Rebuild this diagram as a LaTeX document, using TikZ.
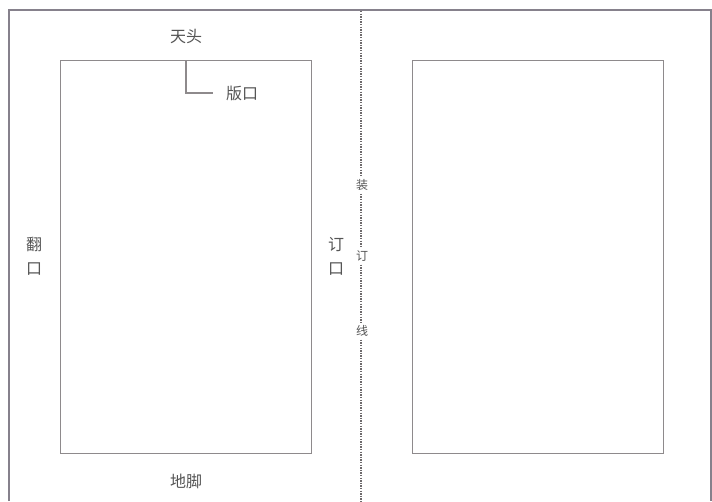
\documentclass[tikz,border=0pt]{standalone}
\usepackage{fontspec}
\newfontfamily\cjk{Noto Sans CJK SC}
\definecolor{framec}{HTML}{86818C}
\definecolor{linec}{HTML}{8E8A8C}
\definecolor{cutc}{HTML}{6E6A6C}
\definecolor{textc}{HTML}{555555}
\begin{document}
\begin{tikzpicture}[x=1pt,y=-1pt,
  frame/.style={draw=framec,line width=1.8pt},
  pagebox/.style={draw=linec,line width=1.1pt},
  lbl/.style={text=textc,font=\cjk\fontsize{16}{16}\selectfont,inner sep=0pt},
  small/.style={text=textc,font=\cjk\fontsize{12}{12}\selectfont,inner sep=3pt},
  cut/.style={draw=cutc,line width=1.8pt,dash pattern=on 1.4pt off 1.2pt},
  lead/.style={draw=linec,line width=1.1pt}]
\useasboundingbox[fill=white] (0,0) rectangle (712,501);
% outer frame (bottom edge off the picture)
\draw[frame] (9,501) -- (9,10) -- (711,10) -- (711,501);
% pages
\node[pagebox,minimum width=251pt,minimum height=393pt,inner sep=0pt,anchor=north west] (lp) at (60,60) {};
\node[pagebox,minimum width=251pt,minimum height=393pt,inner sep=0pt,anchor=north west] (rp) at (412,60) {};
% labels
\node[lbl] (tt) at (186,36) {天头};
\node[lbl] (bk) at (242,93) {版口};
\coordinate (bkleft) at (213,93);
\coordinate (tick) at (186,60);
\draw[lead] (tick) |- (bkleft);
\node[lbl] (dj) at (186,481) {地脚};
\node[lbl,align=center] (fk) at (34,256) {翻\\[8pt]口};
\node[lbl,align=center] (dk) at (336,256) {订\\[8pt]口};
% binding line
\coordinate (ctop) at (361,11);
\coordinate (cbot) at (361,501);
\node[small] (z1) at (362,185) {装};
\node[small] (z2) at (362,256) {订};
\node[small] (z3) at (362,331) {线};
\draw[cut] (ctop) -- (361,0|-z1.north);
\draw[cut] (361,0|-z1.south) -- (361,0|-z2.north);
\draw[cut] (361,0|-z2.south) -- (361,0|-z3.north);
\draw[cut] (361,0|-z3.south) -- (cbot);
\end{tikzpicture}
\end{document}
